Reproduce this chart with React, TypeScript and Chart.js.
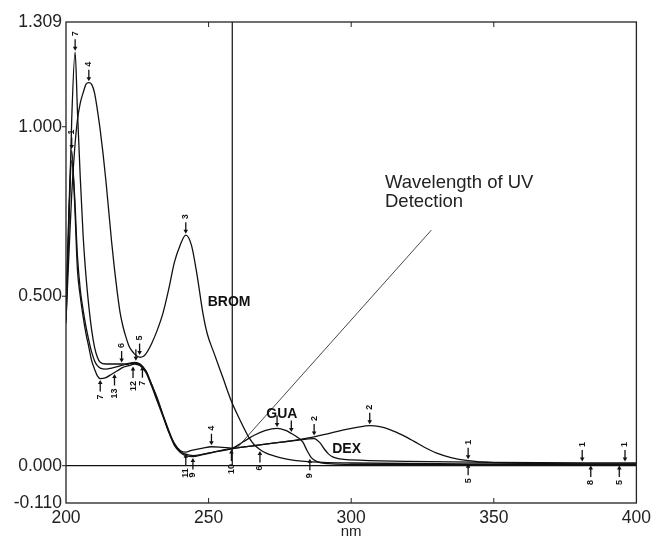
import { useEffect, useRef } from "react";
import { Chart, registerables } from "chart.js";
Chart.register(...registerables);

// ---- data ----
const X_TICKS = [200, 250, 300, 350, 400];
const Y_TICKS = [-0.11, 0, 0.5, 1, 1.309];

const BROM_NM = [200, 201, 202, 203, 204, 205, 206, 207, 208, 209, 210, 211, 212, 213, 214, 215, 216, 217, 218, 219, 220, 221, 222, 223, 224, 225, 226, 227, 228, 230, 232, 234, 236, 238, 240, 242, 244, 246, 248, 249.5, 252, 255, 258, 261, 264, 266, 268, 270, 275, 280, 290, 300, 350, 400];
const BROM_ABS = [0.43, 0.62, 0.8, 0.93, 1.02, 1.07, 1.1, 1.125, 1.13, 1.125, 1.1, 1.05, 0.99, 0.92, 0.84, 0.75, 0.66, 0.58, 0.51, 0.45, 0.41, 0.38, 0.355, 0.34, 0.33, 0.323, 0.32, 0.322, 0.33, 0.36, 0.4, 0.45, 0.52, 0.6, 0.65, 0.68, 0.65, 0.56, 0.45, 0.39, 0.33, 0.26, 0.19, 0.135, 0.085, 0.062, 0.048, 0.038, 0.024, 0.016, 0.01, 0.008, 0.005, 0.004];

const GUA_NM = [200, 201, 202, 203.2, 204, 205, 206, 207, 208, 209, 210, 211, 212, 214, 216, 218, 220, 222, 224, 226, 228, 230, 232, 234, 236, 238, 240, 242, 244, 248, 251, 255, 258, 262, 266, 270, 274, 277, 279, 281, 283, 284.5, 286, 288, 292, 300, 320, 360, 400];
const GUA_ABS = [0.42, 0.7, 1.02, 1.22, 1.05, 0.85, 0.68, 0.56, 0.47, 0.4, 0.35, 0.32, 0.305, 0.3, 0.3, 0.3, 0.3, 0.302, 0.305, 0.3, 0.28, 0.24, 0.2, 0.15, 0.1, 0.065, 0.045, 0.04, 0.045, 0.052, 0.056, 0.054, 0.052, 0.07, 0.09, 0.104, 0.11, 0.104, 0.095, 0.085, 0.07, 0.045, 0.024, 0.012, 0.006, 0.004, 0.003, 0.003, 0.003];

const SCAN_NM = [200, 201, 202, 203, 204, 205, 206, 207, 208, 209, 210, 211, 212, 214, 216, 218, 220, 222, 224, 226, 228, 230, 232, 234, 236, 238, 240, 242, 244.5, 248, 252, 258, 265, 272, 280, 287, 292, 297, 302, 306.5, 310, 314, 318, 322, 326, 330, 335, 341, 350, 370, 400];
const SCAN_ABS = [0.45, 0.75, 0.93, 0.78, 0.58, 0.5, 0.44, 0.39, 0.35, 0.31, 0.285, 0.265, 0.257, 0.26, 0.27, 0.28, 0.29, 0.295, 0.3, 0.295, 0.275, 0.235, 0.19, 0.145, 0.1, 0.06, 0.04, 0.03, 0.027, 0.033, 0.04, 0.05, 0.058, 0.066, 0.075, 0.085, 0.095, 0.105, 0.113, 0.118, 0.115, 0.105, 0.09, 0.072, 0.053, 0.037, 0.024, 0.015, 0.009, 0.006, 0.005];

const DEX_NM = [200, 201, 202, 203, 204, 205, 206, 207, 208, 209, 210, 211, 212, 214, 216, 218, 220, 222, 224, 226, 228, 230, 232, 234, 236, 238, 240, 242, 244.5, 248, 252, 258, 265, 272, 280, 287, 289, 290.5, 292, 293.5, 296, 300, 320, 350, 400];
const DEX_ABS = [0.44, 0.73, 0.9, 0.8, 0.62, 0.52, 0.46, 0.41, 0.37, 0.335, 0.31, 0.295, 0.288, 0.285, 0.288, 0.292, 0.297, 0.3, 0.303, 0.298, 0.28, 0.24, 0.195, 0.15, 0.105, 0.065, 0.043, 0.034, 0.03, 0.034, 0.041, 0.05, 0.058, 0.066, 0.074, 0.08, 0.068, 0.05, 0.035, 0.026, 0.02, 0.017, 0.013, 0.01, 0.008];

const MARK_NM = [203.2, 202, 208, 219.5, 224.5, 225.8, 242, 251, 274, 279, 287, 306.5, 341, 381, 396, 212, 217, 223.5, 226.8, 242, 244.5, 258, 268, 285.5, 341, 384, 394];
const MARK_ABS = [1.22, 0.93, 1.13, 0.3, 0.305, 0.322, 0.68, 0.056, 0.11, 0.095, 0.085, 0.118, 0.015, 0.008, 0.008, 0.257, 0.275, 0.297, 0.298, 0.04, 0.027, 0.052, 0.048, 0.025, 0.01, 0.005, 0.005];
const MARK_TEXT = ["7", "1", "4", "6", "", "5", "3", "4", "", "", "2", "2", "1", "1", "1", "7", "13", "12", "7", "11", "9", "10", "6", "9", "5", "8", "5"];
const MARK_SIDE = ["a", "a", "a", "a", "a", "a", "a", "a", "a", "a", "a", "a", "a", "a", "a", "b", "b", "b", "b", "b", "b", "b", "b", "b", "b", "b", "b"];

const DETECT_NM = 258.3;
const DIAG_NM = [259.7, 328.1];
const DIAG_ABS = [0.05, 0.695];
const NAME_TEXT = ["BROM", "GUA", "DEX"];
const NAME_NM = [257.2, 275.7, 298.4];
const NAME_ABS = [0.482, 0.151, 0.05];

const SANS = '"Liberation Sans", Arial, sans-serif';

const overlay = {
  id: "overlay",
  afterDatasetsDraw(chart: any) {
    const { ctx, chartArea: a, scales } = chart;
    const x = scales.x, y = scales.y;
    const line = (x1: number, y1: number, x2: number, y2: number) => {
      ctx.beginPath(); ctx.moveTo(x1, y1); ctx.lineTo(x2, y2); ctx.stroke();
    };
    ctx.save();
    ctx.strokeStyle = "#111";
    ctx.lineWidth = 1.2;
    const y0 = y.getPixelForValue(0);
    line(a.left, y0, a.right, y0);
    const xd = x.getPixelForValue(DETECT_NM);
    line(xd, a.top, xd, y0);
    ctx.lineWidth = 0.9;
    ctx.strokeStyle = "#333";
    line(x.getPixelForValue(DIAG_NM[0]), y.getPixelForValue(DIAG_ABS[0]), x.getPixelForValue(DIAG_NM[1]), y.getPixelForValue(DIAG_ABS[1]));
    // frame
    ctx.strokeStyle = "#222";
    ctx.lineWidth = 1.3;
    ctx.strokeRect(a.left, a.top, a.right - a.left, a.bottom - a.top);
    // ticks
    ctx.lineWidth = 1;
    for (const v of X_TICKS.slice(1, -1)) {
      const px = x.getPixelForValue(v);
      line(px, a.bottom, px, a.bottom - 5);
      line(px, a.top, px, a.top + 5);
    }
    for (const v of Y_TICKS.slice(1, -1)) {
      const py = y.getPixelForValue(v);
      line(a.left - 4, py, a.left, py);
    }
    // markers
    ctx.fillStyle = "#111";
    ctx.strokeStyle = "#111";
    ctx.font = `bold 9px ${SANS}`;
    for (let i = 0; i < MARK_NM.length; i++) {
      const px = x.getPixelForValue(MARK_NM[i]);
      const py = y.getPixelForValue(MARK_ABS[i]);
      const s = MARK_SIDE[i] === "a" ? -1 : 1;
      ctx.lineWidth = 1.3;
      line(px, py + s * 13, px, py + s * 4);
      ctx.beginPath();
      ctx.moveTo(px, py + s * 1.5);
      ctx.lineTo(px - 2.3, py + s * 5.5);
      ctx.lineTo(px + 2.3, py + s * 5.5);
      ctx.closePath();
      ctx.fill();
      const t = MARK_TEXT[i];
      if (t) {
        const w = ctx.measureText(t).width;
        ctx.save();
        ctx.translate(px, py + s * (16 + w / 2));
        ctx.rotate(-Math.PI / 2);
        ctx.textAlign = "center";
        ctx.textBaseline = "middle";
        ctx.fillText(t, 0, 0);
        ctx.restore();
      }
    }
    // names
    ctx.font = `bold 14px ${SANS}`;
    ctx.textAlign = "center";
    ctx.textBaseline = "middle";
    for (let i = 0; i < NAME_TEXT.length; i++) {
      ctx.fillText(NAME_TEXT[i], x.getPixelForValue(NAME_NM[i]), y.getPixelForValue(NAME_ABS[i]));
    }
    ctx.font = `18.5px ${SANS}`;
    ctx.fillStyle = "#222";
    ctx.textAlign = "left";
    ctx.fillText("Wavelength of UV", 385, 183);
    ctx.fillText("Detection", 385, 202);
    ctx.font = `15px ${SANS}`;
    ctx.textAlign = "center";
    ctx.fillText("nm", (a.left + a.right) / 2, 532);
    ctx.restore();
  },
};

function pts(xs: number[], ys: number[]) {
  return xs.map((v, i) => ({ x: v, y: ys[i] }));
}

export default function App() {
  const ref = useRef<HTMLCanvasElement | null>(null);
  useEffect(() => {
    document.body.style.margin = "0";
    const mk = (label: string, xs: number[], ys: number[]) => ({
      label,
      data: pts(xs, ys),
      borderColor: "#111",
      borderWidth: 1.3,
      pointRadius: 0,
      fill: false,
      cubicInterpolationMode: "monotone" as const,
    });
    const chart = new Chart(ref.current as HTMLCanvasElement, {
      type: "line",
      data: {
        datasets: [
          mk("BROM", BROM_NM, BROM_ABS),
          mk("GUA", GUA_NM, GUA_ABS),
          mk("scan", SCAN_NM, SCAN_ABS),
          mk("DEX", DEX_NM, DEX_ABS),
        ],
      },
      options: {
        responsive: false,
        animation: false,
        devicePixelRatio: 1,
        layout: { padding: { top: 22, right: 17, left: 0, bottom: 0 } },
        plugins: { legend: { display: false }, tooltip: { enabled: false } },
        scales: {
          x: {
            type: "linear",
            min: 200,
            max: 400,
            grid: { display: false, drawTicks: false },
            border: { display: false },
            afterFit: (s: any) => { s.height = 35; },
            afterBuildTicks: (s: any) => { s.ticks = X_TICKS.map((v) => ({ value: v })); },
            ticks: {
              autoSkip: false,
              maxRotation: 0,
              padding: 5,
              color: "#222",
              font: { family: SANS, size: 17.5 },
              callback: (v: any) => String(v),
            },
          },
          y: {
            type: "linear",
            min: -0.11,
            max: 1.309,
            grid: { display: false, drawTicks: false },
            border: { display: false },
            afterFit: (s: any) => { s.width = 66; },
            afterBuildTicks: (s: any) => { s.ticks = Y_TICKS.map((v) => ({ value: v })); },
            ticks: {
              autoSkip: false,
              padding: 4,
              color: "#222",
              font: { family: SANS, size: 17.5 },
              callback: (v: any) => Number(v).toFixed(3),
            },
          },
        },
      },
      plugins: [overlay],
    });
    return () => chart.destroy();
  }, []);
  return <canvas ref={ref} width={656} height={538} style={{ display: "block" }} />;
}
